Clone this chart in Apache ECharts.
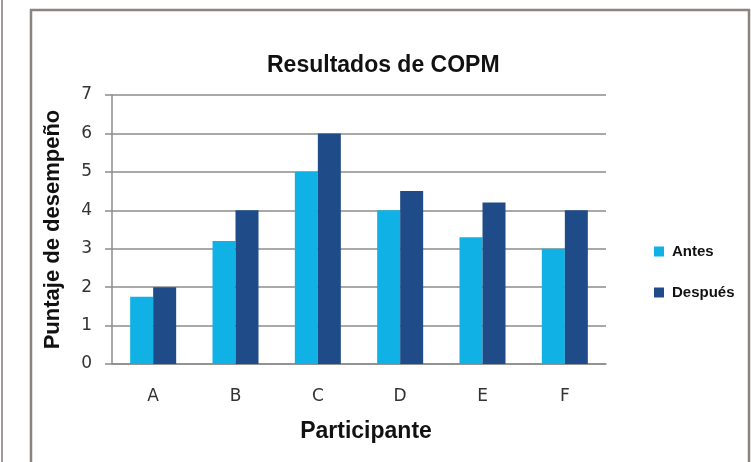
<!DOCTYPE html>
<html>
<head>
<meta charset="utf-8">
<script src="https://cdn.jsdelivr.net/npm/echarts@6/dist/echarts.min.js"></script>
<style>
  html, body { margin: 0; padding: 0; background: #fff; }
  #main { width: 751px; height: 462px; }
</style>
</head>
<body>
<div id="main"></div>
<script>
var participantes = ['A', 'B', 'C', 'D', 'E', 'F'];
var antes = [1.75, 3.2, 5.0, 4.0, 3.3, 3.0];
var despues = [2.0, 4.0, 6.0, 4.5, 4.2, 4.0];

var myChart = echarts.init(document.getElementById('main'));

var option = {
    animation: false,
    backgroundColor: '#fff',
    title: {
        text: 'Resultados de COPM',
        left: 262,
        top: 49,
        textStyle: {
            fontFamily: 'Liberation Sans',
            fontSize: 23,
            fontWeight: 'bold',
            color: '#111'
        }
    },
    legend: {
        data: ['Antes', 'Después'],
        orient: 'vertical',
        left: 649,
        top: 239,
        itemWidth: 10,
        itemHeight: 10,
        itemGap: 26,
        icon: 'rect',
        textStyle: {
            fontFamily: 'Liberation Sans',
            fontSize: 15,
            fontWeight: 'bold',
            color: '#111',
            padding: [0, 0, 0, 3]
        }
    },
    grid: {
        left: 112,
        right: 145,
        top: 95,
        bottom: 98
    },
    xAxis: {
        type: 'category',
        data: participantes,
        name: 'Participante',
        nameLocation: 'middle',
        nameGap: 56,
        nameTextStyle: {
            fontFamily: 'Liberation Sans',
            fontSize: 23,
            fontWeight: 'bold',
            color: '#111',
            padding: [0, 0, 0, 14]
        },
        axisLine: { lineStyle: { color: '#8c8c8c', width: 1.5 } },
        axisTick: { show: false },
        axisLabel: {
            margin: 24,
            fontFamily: 'DejaVu Sans',
            fontSize: 17,
            color: '#333'
        }
    },
    yAxis: {
        type: 'value',
        min: 0,
        max: 7,
        interval: 1,
        name: 'Puntaje de desempeño',
        nameLocation: 'middle',
        nameGap: 48,
        nameTextStyle: {
            fontFamily: 'Liberation Sans',
            fontSize: 22,
            fontWeight: 'bold',
            color: '#111'
        },
        axisLine: { show: true, lineStyle: { color: '#8c8c8c', width: 1.5 } },
        axisTick: { show: true, length: 7, lineStyle: { color: '#8c8c8c', width: 1.5 } },
        axisLabel: {
            margin: 20,
            fontFamily: 'DejaVu Sans',
            fontSize: 17,
            color: '#333'
        },
        splitLine: { lineStyle: { color: '#8c8c8c', width: 1.5 } }
    },
    series: [
        {
            name: 'Antes',
            type: 'bar',
            data: antes,
            barWidth: 23,
            barGap: '0%',
            itemStyle: { color: '#10b2e6' }
        },
        {
            name: 'Después',
            type: 'bar',
            data: despues,
            barWidth: 23,
            barGap: '0%',
            itemStyle: { color: '#1f4c88' }
        }
    ],
    graphic: [
        {
            type: 'line',
            shape: { x1: 2, y1: 0, x2: 2, y2: 462 },
            style: { stroke: '#a09a98', lineWidth: 2 }
        },
        {
            type: 'polyline',
            shape: { points: [[31, 462], [31, 10], [749, 10], [749, 462]] },
            style: { stroke: '#8a8380', lineWidth: 2.5, fill: null }
        }
    ]
};

myChart.setOption(option);
</script>
</body>
</html>
